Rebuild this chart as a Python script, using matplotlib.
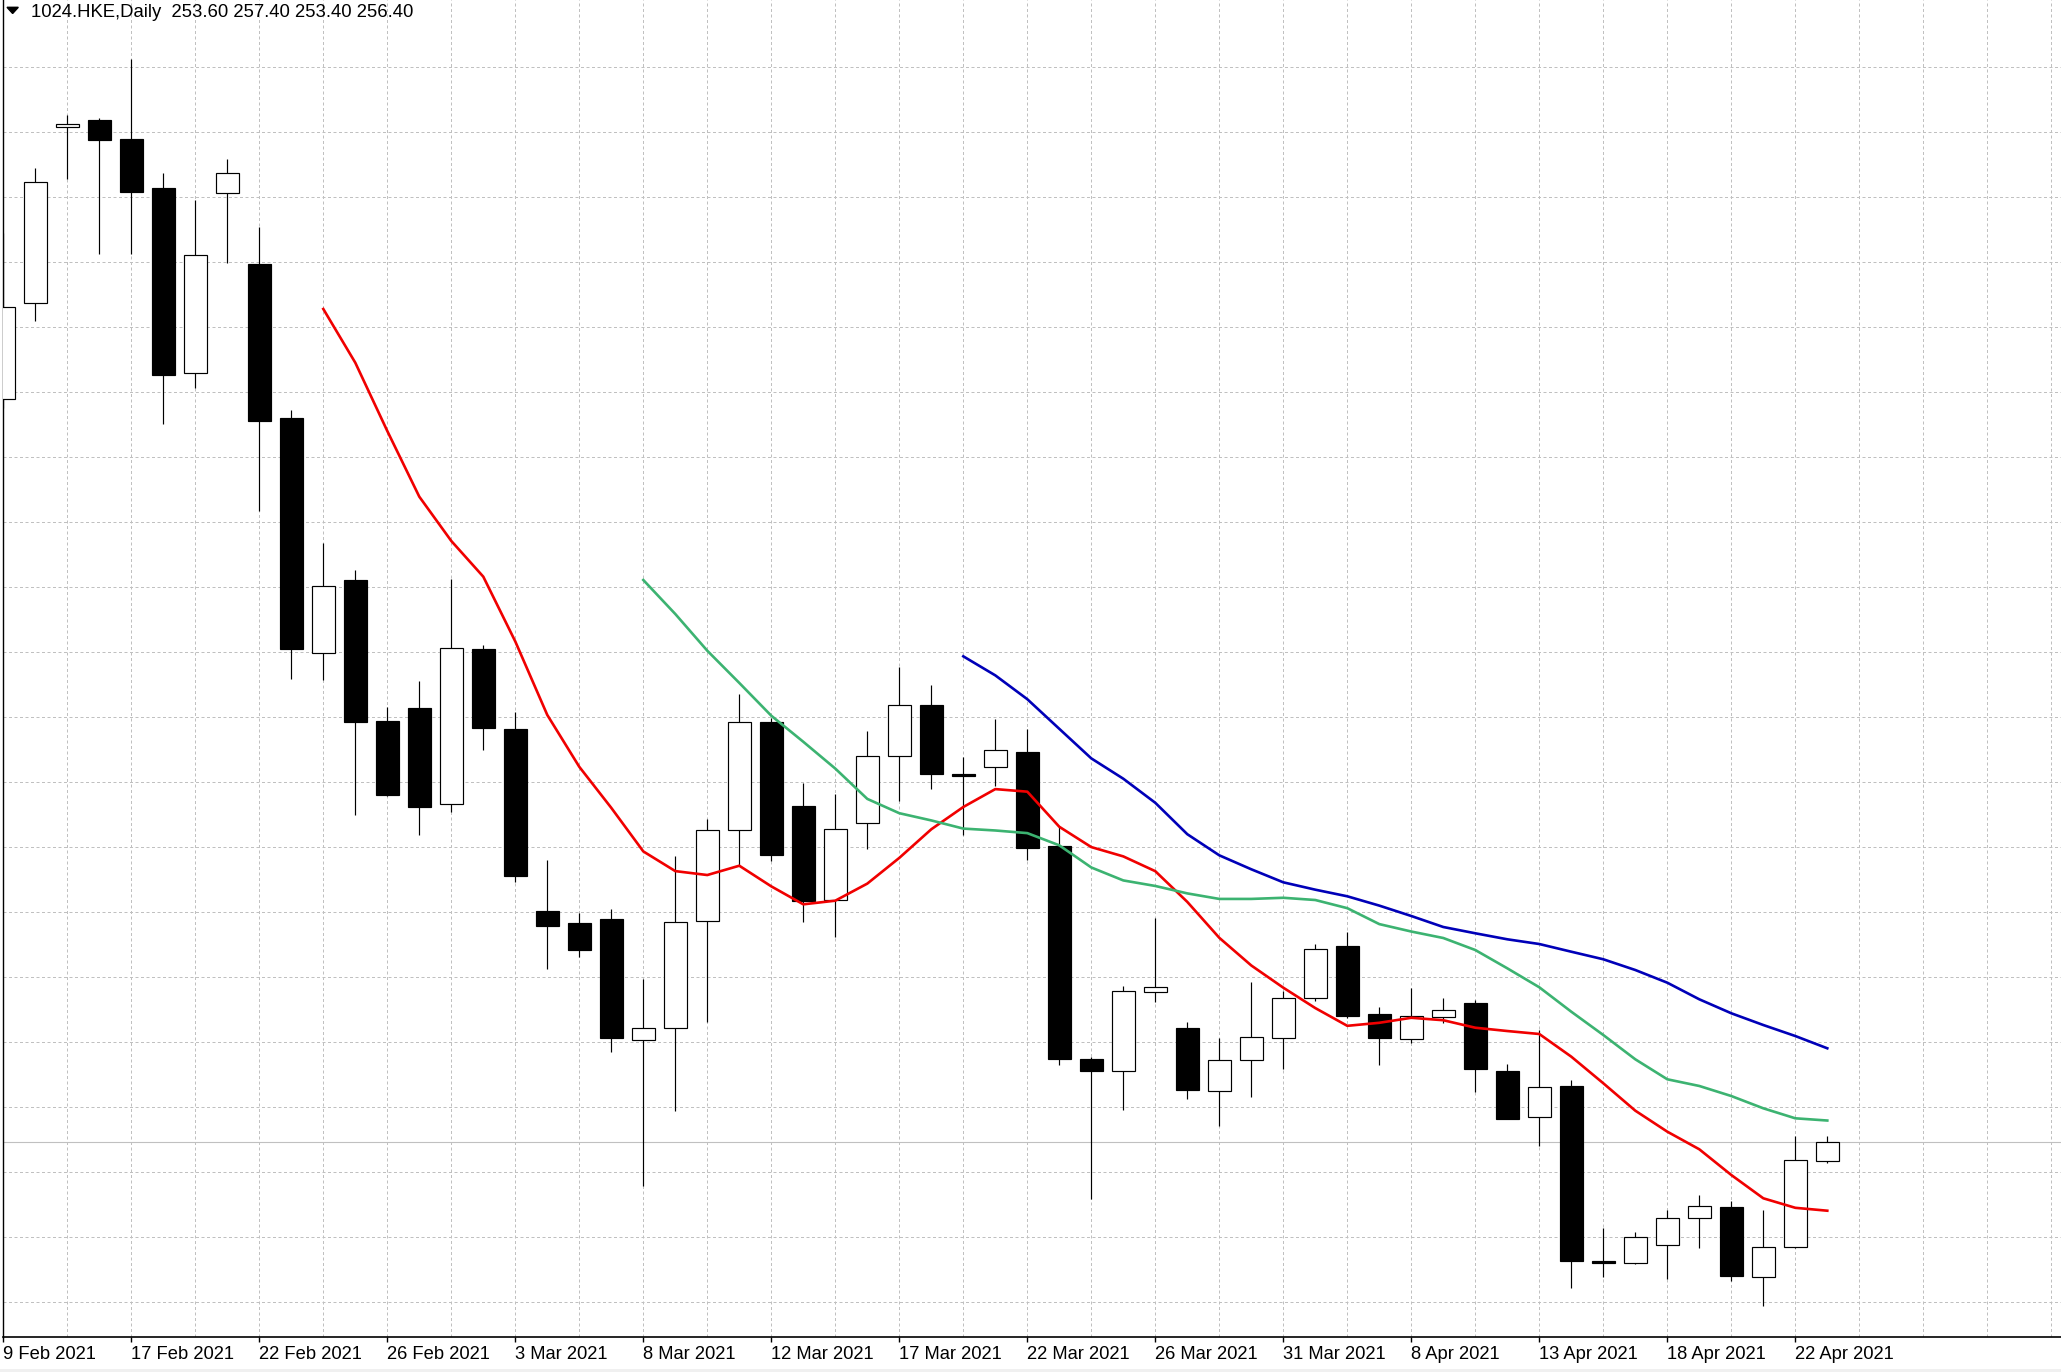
import matplotlib
matplotlib.use('Agg')
import matplotlib.pyplot as plt
from matplotlib.patches import Rectangle, Polygon
import numpy as np

plt.rcParams['font.family'] = ['Liberation Sans', 'DejaVu Sans']

# ---------------- data ----------------
symbol = "1024.HKE,Daily"
tick_labels = ["9 Feb 2021", "17 Feb 2021", "22 Feb 2021", "26 Feb 2021", "3 Mar 2021",
               "8 Mar 2021", "12 Mar 2021", "17 Mar 2021", "22 Mar 2021", "26 Mar 2021",
               "31 Mar 2021", "8 Apr 2021", "13 Apr 2021", "18 Apr 2021", "22 Apr 2021"]

opens = [366.49, 380.71, 406.79, 407.87, 405.05, 397.75, 370.34, 397.10, 386.53, 363.67,
         328.86, 339.72, 318.83, 320.71, 306.49, 329.45, 317.60, 290.62, 288.87, 289.45,
         271.51, 273.32, 289.14, 302.62, 318.61, 306.18, 292.37, 303.79, 313.59, 321.26,
         311.05, 312.00, 314.22, 300.31, 268.74, 266.93, 278.67, 273.29, 263.97, 268.68,
         271.93, 277.73, 285.57, 275.38, 271.79, 274.93, 277.01, 266.93, 260.12, 264.76,
         238.86, 238.49, 241.16, 245.16, 246.83, 236.50, 240.86, 253.60]
highs = [391.08, 400.71, 408.61, 408.12, 416.90, 399.97, 396.01, 402.04, 391.97, 364.90,
         345.20, 341.20, 320.86, 324.76, 339.94, 330.09, 320.21, 298.18, 290.36, 290.99,
         280.67, 298.83, 304.37, 322.78, 319.29, 309.66, 307.97, 317.33, 326.81, 324.10,
         313.48, 319.08, 317.63, 303.16, 269.01, 279.59, 289.61, 274.22, 271.81, 280.13,
         278.77, 285.78, 287.54, 276.47, 279.32, 277.79, 277.50, 268.01, 273.05, 265.64,
         243.67, 243.17, 246.39, 248.61, 247.72, 246.39, 257.39, 257.40]
lows = [365.16, 378.13, 399.13, 388.01, 388.01, 362.76, 368.12, 386.73, 349.99, 325.01,
        324.90, 304.90, 307.70, 301.94, 305.30, 314.53, 295.02, 282.04, 283.90, 269.82,
        249.88, 260.99, 274.22, 297.39, 298.13, 289.04, 286.81, 299.93, 306.92, 308.81,
        302.00, 309.20, 298.22, 267.81, 248.07, 261.23, 277.13, 262.87, 258.87, 263.16,
        267.26, 277.39, 274.83, 267.93, 271.19, 274.13, 263.91, 259.80, 255.91, 234.87,
        236.50, 238.40, 236.16, 240.80, 235.87, 232.21, 240.70, 253.40]
closes = [380.12, 398.64, 407.23, 404.90, 397.20, 370.13, 387.82, 399.97, 363.32, 329.45,
          338.87, 318.73, 307.87, 306.13, 329.60, 317.84, 295.91, 288.50, 284.96, 271.84,
          273.32, 288.98, 302.74, 318.61, 299.04, 292.21, 302.79, 313.59, 321.26, 311.04,
          310.61, 314.46, 299.97, 268.74, 266.93, 278.77, 279.38, 264.09, 268.58, 271.97,
          277.73, 285.02, 275.20, 271.93, 275.19, 275.97, 267.23, 259.91, 264.56, 238.79,
          238.49, 242.34, 245.16, 246.98, 236.65, 240.86, 253.79, 256.40]

# moving averages, starting bar index for each
ma_red_start = 10
ma_red = [379.87, 371.91, 361.79, 352.06, 345.50, 340.21, 330.61, 319.72, 312.04, 305.96,
          299.51, 296.59, 296.01, 297.39, 294.33, 291.67, 292.21, 294.74, 298.55, 302.79,
          306.09, 308.74, 308.36, 303.16, 300.15, 298.77, 296.58, 292.03, 286.71, 282.61,
          279.32, 276.30, 273.67, 274.12, 274.86, 274.50, 273.39, 272.90, 272.46, 269.10,
          265.16, 261.10, 257.99, 255.38, 251.57, 248.12, 246.71, 246.28]
ma_green_start = 20
ma_green = [339.72, 334.68, 329.24, 324.47, 319.61, 315.75, 311.78, 307.29, 305.17, 304.10,
            302.89, 302.61, 302.22, 300.41, 297.13, 295.21, 294.39, 293.29, 292.47, 292.47,
            292.64, 292.31, 291.10, 288.74, 287.64, 286.68, 284.90, 282.19, 279.38, 275.76,
            272.31, 268.71, 265.75, 264.76, 263.27, 261.45, 259.97, 259.64]
ma_blue_start = 30
ma_blue = [328.41, 325.59, 322.06, 317.67, 313.29, 310.28, 306.71, 302.06, 298.93, 296.86,
           294.93, 293.84, 292.86, 291.48, 289.94, 288.31, 287.38, 286.49, 285.79, 284.65,
           283.53, 281.94, 280.06, 277.60, 275.53, 273.79, 272.16, 270.34]

# ---------------- layout ----------------
W, H = 2061, 1372
left_px = 2.7          # left frame line
axis_px = 1337.3       # bottom axis line (from top)
bar0_px = 3.3          # x of first bar
bar_px = 32.0          # pixels per bar
price_line_px = 1142.4 # y of current price line
ppu = 6.75             # pixels per price unit

fig = plt.figure(figsize=(W / 100, H / 100), dpi=100)
fig.patch.set_facecolor('white')
ax = fig.add_axes([left_px / W, (H - axis_px) / H, 1 - left_px / W, axis_px / H])
ax.set_facecolor('white')

n = len(opens)
x = np.arange(n)
last_close = closes[-1]
top_price = last_close + price_line_px / ppu
bottom_price = top_price - axis_px / ppu
ax.set_xlim((left_px - bar0_px) / bar_px, (W - bar0_px) / bar_px)
ax.set_ylim(bottom_price, top_price)

# grid
grid_kw = dict(color='#c0c0c0', linewidth=0.72, linestyle=(0, (3, 2.5)))
grid_prices = [top_price - (2.3 + 65 * k) / ppu for k in range(1, 21)]
ax.set_yticks(grid_prices)
ax.tick_params(axis='y', length=0, labelleft=False)
ax.set_xticks(x[::4])
ax.set_xticklabels(tick_labels)
max_bar = int(ax.get_xlim()[1])
ax.set_xticks(np.arange(0, max_bar + 1, 2), minor=True)
ax.tick_params(axis='x', which='minor', length=0)
ax.tick_params(axis='x', which='major', direction='out', length=3.5, width=1.0,
               pad=3, labelsize=13.2, colors='black')
for lbl in ax.get_xticklabels():
    lbl.set_horizontalalignment('left')
ax.grid(True, which='both', axis='x', **grid_kw)
ax.grid(True, which='major', axis='y', **grid_kw)
ax.set_axisbelow(True)

# current price line
ax.axhline(last_close, color='#c0c0c0', linewidth=0.8, zorder=1.5)

# candles
ax.vlines(x, lows, highs, color='black', linewidth=0.85, zorder=2)
body_w = 0.72
for i in range(n):
    o, c = opens[i], closes[i]
    bull = c >= o
    ax.add_patch(Rectangle((x[i] - body_w / 2, min(o, c)), body_w, abs(c - o),
                           facecolor='white' if bull else 'black',
                           edgecolor='black', linewidth=0.85, zorder=3))

# moving averages
ax.plot(x[ma_red_start:ma_red_start + len(ma_red)], ma_red, color='#f00000', lw=1.9, zorder=4)
ax.plot(x[ma_green_start:ma_green_start + len(ma_green)], ma_green, color='#3cb371', lw=1.9, zorder=4)
ax.plot(x[ma_blue_start:ma_blue_start + len(ma_blue)], ma_blue, color='#0000b8', lw=1.9, zorder=4)

# spines
for s in ('top', 'right'):
    ax.spines[s].set_visible(False)
ax.spines['left'].set_color('black')
ax.spines['left'].set_linewidth(1.0)
ax.spines['bottom'].set_color('black')
ax.spines['bottom'].set_linewidth(1.2)

# header
tri = [(7.0, 7.3), (18.3, 7.3), (12.65, 13.5)]
fig.add_artist(Polygon([(px / W, 1 - py / H) for px, py in tri], closed=True,
                       transform=fig.transFigure, color='black'))
header = f"{symbol}  {opens[-1]:.2f} {highs[-1]:.2f} {lows[-1]:.2f} {closes[-1]:.2f}"
fig.text(30.7 / W, 1 - 16.7 / H, header, fontsize=13.3, ha='left', va='baseline', color='black')

# bottom window strip
fig.add_artist(Rectangle((0, 0), 1, 3 / H, transform=fig.transFigure,
                         facecolor='#f0f0f0', edgecolor='none'))

fig.savefig('out.png', dpi=100)
